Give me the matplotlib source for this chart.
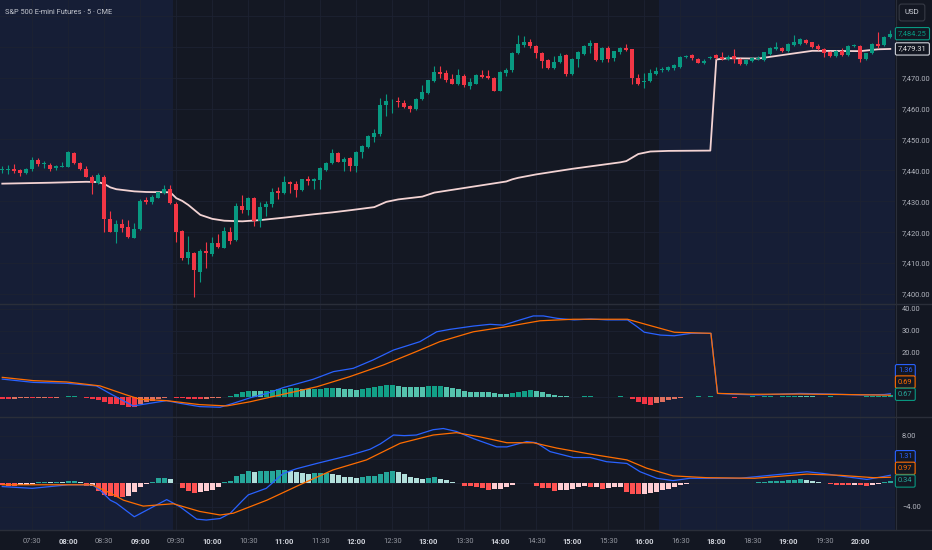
import numpy as np
import matplotlib.pyplot as plt
from matplotlib.patches import Rectangle
from matplotlib.lines import Line2D

plt.rcParams['font.family'] = ['Roboto', 'DejaVu Sans']

# ---------------- data (5 min bars) ----------------
opens = [
    7440.0, 7440.1, 7440.4, 7440.2, 7439.2, 7440.5, 7443.3, 7442.0, 7441.7, 7440.8,
    7441.2, 7441.2, 7445.7, 7442.5, 7440.5, 7438.0, 7435.9, 7438.0, 7424.3, 7420.2,
    7422.6, 7421.7, 7418.2, 7420.9, 7430.4, 7429.6, 7431.2, 7432.7, 7434.0, 7429.0,
    7420.4, 7411.7, 7413.4, 7407.2, 7414.0, 7412.8, 7416.4, 7415.0, 7420.2, 7417.3,
    7428.5, 7427.2, 7431.2, 7423.7, 7428.3, 7429.1, 7433.3, 7432.6, 7436.1, 7435.6,
    7433.7, 7437.1, 7436.6, 7436.9, 7440.1, 7442.3, 7445.7, 7442.8, 7443.9, 7441.5,
    7446.1, 7447.7, 7450.9, 7451.7, 7461.2, 7462.3, 7462.6, 7461.8, 7460.8, 7459.8,
    7463.1, 7465.2, 7468.9, 7471.8, 7471.4, 7469.6, 7468.1, 7470.6, 7467.3, 7468.1,
    7470.9, 7470.4, 7470.0, 7465.8, 7471.6, 7472.4, 7477.9, 7480.6, 7481.4, 7480.3,
    7478.0, 7475.7, 7473.0, 7475.0, 7477.3, 7471.2, 7476.0, 7477.7, 7480.4, 7481.1,
    7475.7, 7479.5, 7476.3, 7478.3, 7479.7, 7479.2, 7470.0, 7468.5, 7468.8, 7471.2,
    7472.4, 7472.5, 7473.0, 7473.6, 7476.7, 7477.3, 7476.2, 7474.9, 7476.3, 7477.3,
    7476.8, 7475.9, 7477.0, 7476.2, 7474.4, 7475.4, 7476.1, 7475.6, 7477.7, 7479.2,
    7479.5, 7478.6, 7480.6, 7480.9, 7482.2, 7481.5, 7480.4, 7479.3, 7478.4, 7477.1,
    7478.6, 7477.3, 7480.2, 7480.3, 7476.0, 7477.9, 7480.9, 7480.6, 7483.2,
]
highs = [
    7441.3, 7441.7, 7442.0, 7440.6, 7440.8, 7444.4, 7443.9, 7442.9, 7442.3, 7441.7,
    7442.7, 7446.3, 7446.0, 7442.8, 7441.3, 7438.6, 7439.0, 7438.5, 7426.9, 7423.9,
    7424.4, 7423.9, 7423.1, 7430.6, 7431.3, 7431.9, 7433.1, 7435.1, 7435.1, 7429.6,
    7420.8, 7418.8, 7413.7, 7414.5, 7416.9, 7418.5, 7419.3, 7421.8, 7421.8, 7429.3,
    7432.0, 7431.3, 7431.5, 7429.8, 7430.1, 7434.2, 7434.5, 7438.3, 7436.7, 7436.4,
    7437.3, 7438.3, 7437.5, 7441.2, 7442.6, 7446.9, 7445.8, 7444.4, 7444.2, 7446.4,
    7448.2, 7451.5, 7453.3, 7463.5, 7464.7, 7463.1, 7463.7, 7462.8, 7461.2, 7463.3,
    7467.6, 7469.4, 7473.8, 7473.8, 7472.5, 7471.2, 7472.8, 7471.2, 7470.0, 7471.2,
    7472.5, 7472.5, 7470.2, 7472.1, 7473.2, 7478.4, 7483.8, 7483.6, 7482.5, 7480.6,
    7478.2, 7475.9, 7477.0, 7478.1, 7477.6, 7476.4, 7478.5, 7480.5, 7482.2, 7481.3,
    7479.8, 7480.1, 7478.8, 7479.8, 7480.9, 7479.4, 7471.2, 7471.6, 7472.7, 7473.6,
    7473.6, 7473.8, 7474.4, 7477.1, 7477.5, 7477.6, 7476.5, 7476.0, 7477.0, 7477.6,
    7478.2, 7477.2, 7479.3, 7476.5, 7476.0, 7476.6, 7476.9, 7478.4, 7479.8, 7481.5,
    7479.8, 7481.1, 7483.8, 7482.8, 7482.5, 7481.7, 7480.9, 7479.5, 7478.6, 7479.0,
    7479.6, 7480.6, 7480.9, 7480.6, 7478.1, 7481.1, 7484.7, 7483.5, 7485.4,
]
lows = [
    7439.0, 7438.9, 7439.3, 7438.3, 7438.8, 7439.8, 7441.4, 7440.7, 7439.8, 7440.0,
    7441.0, 7441.0, 7442.2, 7440.2, 7437.7, 7432.3, 7435.6, 7420.2, 7419.9, 7416.4,
    7420.2, 7418.0, 7418.0, 7420.6, 7429.2, 7429.0, 7430.9, 7432.3, 7429.0, 7416.7,
    7411.0, 7409.7, 7399.1, 7404.0, 7408.3, 7412.4, 7414.8, 7414.8, 7416.2, 7417.0,
    7426.3, 7425.6, 7422.0, 7421.8, 7425.2, 7428.0, 7430.7, 7432.3, 7432.6, 7431.3,
    7433.4, 7435.3, 7433.9, 7433.9, 7439.8, 7441.9, 7442.6, 7439.9, 7439.8, 7439.6,
    7443.9, 7447.3, 7449.3, 7451.1, 7457.7, 7458.7, 7460.6, 7460.3, 7459.0, 7459.6,
    7462.9, 7464.8, 7468.6, 7469.8, 7468.7, 7467.8, 7467.6, 7467.1, 7466.3, 7467.8,
    7469.8, 7469.7, 7465.6, 7465.6, 7470.6, 7472.0, 7477.7, 7480.0, 7479.7, 7476.3,
    7473.2, 7472.8, 7472.8, 7474.6, 7470.6, 7470.8, 7473.6, 7477.4, 7477.9, 7475.5,
    7475.0, 7475.2, 7475.3, 7477.6, 7478.7, 7467.9, 7467.6, 7466.6, 7468.5, 7470.8,
    7471.9, 7472.2, 7472.6, 7473.2, 7476.4, 7475.7, 7474.6, 7474.3, 7476.0, 7476.0,
    7475.6, 7475.6, 7474.8, 7474.1, 7474.1, 7475.0, 7475.7, 7475.4, 7477.4, 7478.9,
    7478.4, 7478.4, 7480.2, 7480.6, 7480.9, 7479.7, 7478.9, 7476.6, 7476.8, 7476.8,
    7477.0, 7477.1, 7479.9, 7475.2, 7475.7, 7477.6, 7479.5, 7480.2, 7483.0,
]
closes = [
    7440.5, 7440.5, 7439.7, 7439.2, 7440.5, 7443.4, 7442.1, 7442.4, 7440.4, 7441.3,
    7441.5, 7445.8, 7442.5, 7440.6, 7438.0, 7435.9, 7438.5, 7424.2, 7420.2, 7422.7,
    7421.5, 7418.3, 7420.9, 7430.1, 7429.6, 7431.4, 7432.9, 7433.9, 7429.3, 7420.0,
    7411.7, 7413.5, 7407.8, 7414.0, 7413.3, 7416.4, 7415.1, 7420.5, 7417.0, 7428.5,
    7427.2, 7430.9, 7423.7, 7428.0, 7429.1, 7433.1, 7432.6, 7436.1, 7435.5, 7433.7,
    7437.1, 7436.6, 7437.1, 7440.7, 7442.3, 7445.7, 7442.8, 7443.7, 7441.5, 7446.1,
    7448.0, 7451.1, 7452.0, 7461.2, 7462.5, 7462.6, 7462.0, 7460.6, 7459.8, 7463.1,
    7465.3, 7469.1, 7471.7, 7471.2, 7469.3, 7468.1, 7470.9, 7467.5, 7468.7, 7470.9,
    7470.2, 7470.0, 7465.8, 7471.8, 7472.5, 7478.1, 7480.8, 7481.5, 7480.1, 7478.0,
    7475.5, 7473.0, 7475.2, 7477.0, 7471.1, 7476.0, 7478.2, 7480.3, 7481.1, 7475.7,
    7479.5, 7476.0, 7478.6, 7479.6, 7479.0, 7469.8, 7467.9, 7468.9, 7471.6, 7472.3,
    7472.8, 7473.5, 7474.1, 7476.7, 7477.1, 7476.3, 7474.9, 7475.5, 7476.7, 7476.5,
    7475.9, 7476.8, 7475.9, 7474.4, 7475.7, 7476.3, 7476.4, 7478.2, 7479.5, 7479.9,
    7478.6, 7480.9, 7481.5, 7482.5, 7481.1, 7480.0, 7479.3, 7477.9, 7477.1, 7478.7,
    7477.5, 7480.4, 7480.6, 7476.0, 7477.9, 7480.8, 7480.4, 7483.3, 7484.25,
]

# session VWAP (bar index, value)
vwap_k = [0, 8, 14, 16, 17, 18, 19, 22, 24, 28, 29, 30, 31, 32, 33, 35, 37, 40, 43, 47,
          52, 55, 58, 62, 64, 66, 70, 72, 75, 80, 84, 85, 86, 89, 95, 103, 104, 106, 108,
          111, 118, 119, 121, 126, 131, 135, 143, 146, 148]
vwap_v = [7435.7, 7436.0, 7436.3, 7436.2, 7435.6, 7434.5, 7433.9, 7433.2, 7433.0, 7432.9,
          7431.0, 7430.1, 7428.8, 7427.2, 7425.6, 7424.3, 7423.7, 7423.5, 7423.9, 7424.7,
          7425.8, 7426.4, 7427.1, 7428.1, 7429.8, 7430.6, 7431.5, 7432.8, 7433.7, 7435.2,
          7436.4, 7437.1, 7437.6, 7438.7, 7440.5, 7442.6, 7443.0, 7445.3, 7446.1, 7446.3,
          7446.4, 7475.9, 7476.3, 7476.2, 7477.6, 7478.7, 7478.6, 7479.2, 7479.31]

# upper MACD pane
macd1_k = [0, 5.2, 10.7, 15.7, 17.9, 21.8, 24.6, 27.4, 29.6, 32.9, 36.3, 38.5, 41.3, 44.1,
           46.8, 51.8, 55.2, 58.5, 61.8, 65.2, 69.6, 72.4, 74.6, 78.5, 81.3, 83.5, 85.7,
           88.5, 90.2, 92.5, 95.3, 98.1, 100.8, 104.2, 105.8, 107, 109.7, 112, 114.8, 118.1,
           119.2, 122, 126, 133, 138, 143, 147, 148]
macd1_v = [8.0, 6.5, 6.1, 4.9, 1.5, -4.2, -3.0, -1.8, -3.0, -4.5, -4.8, -3.0, -0.5, 1.5,
           4.1, 7.9, 11.4, 12.9, 16.7, 21.2, 25.0, 29.5, 30.6, 32.1, 32.9, 32.5, 34.4,
           36.7, 36.7, 35.6, 34.9, 35.3, 34.9, 34.9, 31.8, 29.3, 28.0, 27.7, 28.8, 28.8,
           1.5, 1.1, 0.8, 1.5, 1.2, 0.8, 1.0, 1.36]
sig1_k = [0, 5.2, 10.7, 16.3, 20.7, 23, 27.4, 32.9, 37.4, 41.3, 46.8, 52.4, 57.9, 63.5,
          69, 72.9, 78.5, 84, 89.6, 95.2, 104.2, 107.6, 112, 118.1, 119.2, 125, 133, 140, 148]
sig1_v = [8.8, 7.3, 6.7, 4.9, 0.8, -1.2, -1.8, -3.6, -4.2, -2.3, 1.1, 4.5, 9.1, 14.4,
          20.5, 25.0, 29.5, 31.8, 34.5, 35.2, 35.2, 32.6, 29.3, 28.8, 1.5, 1.1, 1.2, 1.0, 0.69]
hist1 = [
    -0.9, -1.0, -0.9, -0.8, -0.7, -0.8, -0.6, -0.5, -0.6, -0.5,
    -0.3, 0.2, 0.3, -0.3, -0.6, -1.0, -1.5, -2.5, -3.2, -3.5,
    -4.0, -4.5, -4.6, -3.5, -2.5, -1.8, -1.2, -0.6, -0.3, -0.4,
    -0.8, -1.0, -1.1, -1.15, -1.0, -0.6, -0.4, -0.2, 0.5, 1.1,
    2.0, 2.7, 2.6, 2.55, 2.7, 3.0, 3.3, 3.5, 3.8, 3.85,
    3.4, 3.3, 3.5, 3.7, 4.0, 4.1, 3.8, 3.4, 3.3, 3.25,
    3.6, 3.8, 4.5, 5.0, 5.1, 5.2, 4.8, 4.5, 4.4, 4.3,
    4.25, 4.8, 5.0, 5.05, 4.4, 4.0, 3.6, 2.6, 2.3, 2.2,
    2.1, 2.0, 1.6, 1.4, 1.35, 1.8, 2.3, 2.7, 2.9, 2.6,
    2.0, 1.3, 0.8, 0.5, 0.2, -0.3, -0.2, 0.1, 0.12, -0.2,
    -0.1, -0.3, -0.2, 0.1, -0.1, -1.0, -2.5, -3.5, -3.9, -2.8,
    -2.2, -1.6, -1.1, -0.6, -0.3, -0.1, 0.1, -0.1, 0.1, -0.2,
    -0.1, -0.3, -0.4, -0.3, -0.2, 0.1, -0.1, 0.1, 0.15, -0.1,
    0.1, 0.2, 0.25, 0.2, 0.15, 0.1, -0.1, -0.15, 0.1, -0.1,
    -0.2, -0.25, -0.2, -0.1, 0.1, 0.2, 0.3, 0.5, 0.67,
]

# lower MACD pane
macd2_k = [0, 5, 11, 15, 16.3, 18, 19, 22, 27.4, 29.6, 32.4, 34, 36.3, 38, 40, 41, 44,
           46.8, 49, 52.4, 58, 61.3, 63, 65.2, 67, 69, 71.8, 73.5, 75.7, 78.5, 82.4, 84.1,
           87.4, 89, 91.3, 95.2, 98, 100.7, 104.1, 106.3, 109.1, 111.8, 114.6, 122.9,
           128.5, 134.1, 136.9, 139.6, 144.1, 146.9, 148]
macd2_v = [-0.6, -0.9, -0.3, -0.3, -1.2, -2.9, -3.4, -5.7, -2.8, -4.0, -6.1, -6.25, -6.0,
           -5.1, -3.0, -2.0, -0.9, 1.6, 2.4, 3.3, 4.7, 5.7, 6.6, 8.1, 8.0, 8.1, 9.0, 9.2,
           8.7, 7.5, 6.1, 6.1, 7.0, 6.8, 5.3, 4.3, 4.3, 3.6, 3.3, 1.9, 0.8, 0.4, 0.8, 0.8,
           1.35, 1.9, 1.6, 1.2, 0.6, 1.1, 1.31]
sig2_k = [0, 15, 18, 20.2, 23.5, 28.5, 32.9, 36.3, 38.5, 44.1, 49.6, 55.1, 60.7, 66.3,
          71.8, 75.7, 79.6, 84.1, 88.5, 92.4, 97.9, 104.1, 107.4, 111.8, 117.4, 125.4,
          134.1, 139.6, 145.2, 148]
sig2_v = [-0.3, -0.3, -1.7, -2.9, -3.9, -3.5, -4.8, -5.4, -5.1, -2.9, -0.3, 2.2, 3.9, 6.7,
          8.1, 8.5, 7.8, 6.8, 6.8, 5.9, 4.9, 3.9, 2.5, 1.2, 0.9, 0.8, 1.5, 1.3, 0.9, 0.97]
hist2 = [
    -0.4, -0.45, -0.5, -0.35, -0.3, -0.2, 0.1, 0.12, 0.1, 0.12,
    0.1, 0.3, 0.4, 0.2, -0.5, -0.45, -1.4, -2.0, -2.2, -2.3,
    -2.4, -2.2, -1.5, -0.6, -0.1, 0.2, 0.8, 0.9, 0.7, 0.05,
    -0.8, -1.35, -1.7, -1.5, -1.35, -1.1, -0.7, 0.2, 0.3, 1.1,
    1.6, 2.1, 1.9, 1.95, 2.0, 2.1, 2.15, 2.25, 2.0, 1.9,
    1.75, 1.6, 1.65, 1.7, 1.75, 1.6, 1.3, 1.0, 0.95, 0.9,
    1.0, 1.1, 1.15, 1.6, 1.9, 2.0, 1.9, 1.6, 1.0, 0.9,
    0.7, 0.8, 0.95, 0.75, 0.5, 0.2, 0.05, -0.45, -0.55, -0.65,
    -0.85, -1.2, -1.05, -0.95, -0.7, -0.35, 0.05, 0.06, -0.05, -0.45,
    -0.8, -0.85, -1.35, -1.25, -1.2, -0.95, -0.7, -0.45, -0.7, -0.65,
    -0.95, -0.8, -0.7, -0.65, -1.5, -1.8, -1.9, -1.8, -1.7, -1.5,
    -1.25, -1.0, -0.7, -0.3, -0.1, 0.05, 0.04, 0.06, 0.04, -0.05,
    -0.04, 0.05, 0.08, 0.05, -0.05, 0.05, 0.1, 0.2, 0.3, 0.35,
    0.4, 0.45, 0.55, 0.6, 0.45, 0.3, 0.15, 0.05, -0.2, -0.3,
    -0.35, -0.4, -0.3, -0.35, -0.45, -0.3, -0.15, 0.2, 0.34,
]

tick_labels = ['07:30', '08:00', '08:30', '09:00', '09:30', '10:00', '10:30', '11:00',
               '11:30', '12:00', '12:30', '13:00', '13:30', '14:00', '14:30', '15:00',
               '15:30', '16:00', '16:30', '18:00', '18:30', '19:00', '19:30', '20:00']
tick_bars = list(range(5, 5 + 6 * len(tick_labels), 6))

price_ticks = [7400, 7410, 7420, 7430, 7440, 7450, 7460, 7470, 7480, 7490]
macd1_ticks = [40, 30, 20, 10, 0]
macd2_ticks = [8, 4, 0, -4]

# regular session (darker background) in bar units
rth_start, rth_end = 28.5, 109.5

# ---------------- drawing ----------------
W, H = 932, 550
BG = '#131722'
DARK = '#141823'
NAVY = '#161e36'
GRID = '#1d2232'
TXT = '#b2b5be'
UP = '#089981'
DOWN = '#f23645'
XMIN, XMAX = -0.38, 148.78

fig = plt.figure(figsize=(W / 100, H / 100), dpi=100)
fig.patch.set_facecolor(BG)


def add_panel(top, bottom):
    ax = fig.add_axes([0, 1 - bottom / H, 895 / W, (bottom - top) / H])
    ax.set_facecolor(DARK)
    ax.set_xlim(XMIN, XMAX)
    ax.axvspan(XMIN - 1, rth_start, color=NAVY, lw=0, zorder=0)
    ax.axvspan(rth_end, XMAX + 1, color=NAVY, lw=0, zorder=0)
    for s in ax.spines.values():
        s.set_visible(False)
    ax.yaxis.tick_right()
    ax.tick_params(axis='both', length=0, labelsize=5.4, labelcolor=TXT, pad=5)
    ax.set_xticks(tick_bars)
    ax.set_xticklabels([])
    ax.grid(True, color=GRID, lw=0.6)
    ax.set_axisbelow(True)
    return ax


ax0 = add_panel(0, 303.5)
ax1 = add_panel(304.5, 416.5)
ax2 = add_panel(417.5, 529.5)

# price pane
ax0.set_ylim(7396.9, 7495.15)
ax0.set_yticks(price_ticks)
ax0.set_yticklabels([f'{v:,.2f}' if v < 7480 else '' for v in price_ticks])
for i in range(len(opens)):
    o, h, l, c = opens[i], highs[i], lows[i], closes[i]
    col = UP if c >= o else DOWN
    ax0.vlines(i, l, h, color=col, lw=0.8, zorder=3)
    ax0.add_patch(Rectangle((i - 0.34, min(o, c)), 0.68, max(abs(c - o), 0.3),
                            facecolor=col, edgecolor='none', zorder=4))
ax0.plot(vwap_k, vwap_v, color='#f3d3d3', lw=1.3, zorder=2.5, solid_joinstyle='round')


def hist_colors(vals, up, up_weak, down, down_weak):
    cols = []
    for i, v in enumerate(vals):
        prev = vals[i - 1] if i > 0 else v
        if v >= 0:
            cols.append(up if v >= prev else up_weak)
        else:
            cols.append(down if v <= prev else down_weak)
    return cols


bars = np.arange(len(hist1))
ax1.set_ylim(-9.0, 41.9)
ax1.set_yticks(macd1_ticks)
ax1.set_yticklabels([f'{v:.2f}' if v >= 20 else '' for v in macd1_ticks])
ax1.bar(bars, hist1, width=0.8, zorder=2,
        color=hist_colors(hist1, '#12a087', '#55c2ad', '#f23645', '#e0705f'))
ax1.plot(macd1_k, macd1_v, color='#2962ff', lw=0.9, zorder=3)
ax1.plot(sig1_k, sig1_v, color='#ff6d00', lw=0.9, zorder=3)

ax2.set_ylim(-7.85, 11.06)
ax2.set_yticks(macd2_ticks)
ax2.set_yticklabels(['8.00', '', '', '\u22124.00'])
ax2.bar(bars, hist2, width=0.8, zorder=2,
        color=hist_colors(hist2, '#26a69a', '#b2dfdb', '#ff5252', '#ffcdd2'))
ax2.plot(macd2_k, macd2_v, color='#2962ff', lw=0.9, zorder=3)
ax2.plot(sig2_k, sig2_v, color='#ff6d00', lw=0.9, zorder=3)

# time axis
ax2.set_xticklabels(tick_labels)
ax2.tick_params(axis='x', pad=6)
for lab in ax2.get_xticklabels():
    if lab.get_text().endswith(':00'):
        lab.set_color('#d1d4dc')
        lab.set_fontweight('bold')
    else:
        lab.set_color('#9598a1')

# separators
for y in (304, 417, 530):
    fig.add_artist(Line2D([0, 1], [1 - y / H] * 2, color='#2a2e39', lw=1))
fig.add_artist(Line2D([895.5 / W] * 2, [1 - 530 / H, 1], color='#2a2e39', lw=0.8))


def tag(x_px, y_px, text, edge, color):
    fig.text(x_px / W, 1 - y_px / H, text, ha='left', va='center', fontsize=5.4,
             color=color, zorder=10,
             bbox=dict(boxstyle='round,pad=0.35,rounding_size=0.2', fc=BG, ec=edge, lw=0.8))


# last price / vwap tags sit at their values on the price scale
to_px = lambda v: (1 - ax0.transData.transform((0, v))[1] / fig.bbox.height) * H
fig.canvas.draw()
tag(898, to_px(closes[-1]), f'{closes[-1]:,.2f}', UP, UP)
tag(898, to_px(vwap_v[-1]), f'{vwap_v[-1]:,.2f}', '#d1d4dc', '#e6e6e6')

# indicator value tags, stacked like the platform does
tag(898, 370.7, f'{macd1_v[-1]:.2f}', '#2962ff', '#2962ff')
tag(898, 382.0, f'{sig1_v[-1]:.2f}', '#ff6d00', '#ff6d00')
tag(898, 394.3, f'{hist1[-1]:.2f}', UP, '#26a69a')
tag(898, 456.7, f'{macd2_v[-1]:.2f}', '#2962ff', '#2962ff')
tag(898, 468.3, f'{sig2_v[-1]:.2f}', '#ff6d00', '#ff6d00')
tag(898, 481.0, f'{hist2[-1]:.2f}', UP, '#26a69a')

fig.text(912 / W, 1 - 12.5 / H, 'USD', ha='center', va='center', fontsize=5.6,
         color='#d1d4dc',
         bbox=dict(boxstyle='round,pad=0.7,rounding_size=0.3', fc=BG, ec='#363a45', lw=0.8))
fig.text(5 / W, 1 - 12 / H, 'S&P 500 E-mini Futures \u00b7 5 \u00b7 CME', ha='left',
         va='center', fontsize=5.3, color='#c3c6ce')

fig.savefig('out.png', dpi=100, facecolor=fig.get_facecolor())
